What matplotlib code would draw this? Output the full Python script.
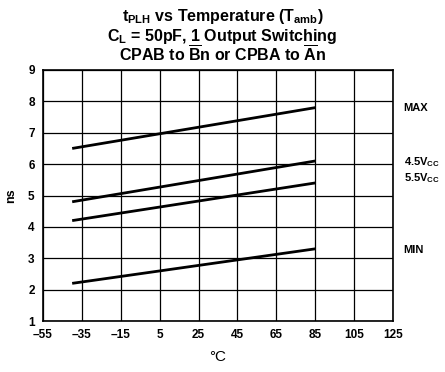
import matplotlib
matplotlib.use("Agg")
import matplotlib.pyplot as plt

# data
temps = [-40, 85]
max_ns = [6.5, 7.8]
v45_ns = [4.8, 6.1]
v55_ns = [4.2, 5.4]
min_ns = [2.2, 3.3]

x_ticks = [-55, -35, -15, 5, 25, 45, 65, 85, 105, 125]
y_ticks = [1, 2, 3, 4, 5, 6, 7, 8, 9]
series_labels = ["MAX", r"4.5V$_{CC}$", r"5.5V$_{CC}$", "MIN"]
label_y = [7.78, 6.08, 5.55, 3.26]

plt.rcParams['font.family'] = ['Liberation Sans', 'DejaVu Sans']
plt.rcParams['font.weight'] = 'bold'
plt.rcParams['mathtext.fontset'] = 'custom'
plt.rcParams['mathtext.rm'] = 'Liberation Sans:bold'
plt.rcParams['mathtext.it'] = 'Liberation Sans:bold'
plt.rcParams['mathtext.bf'] = 'Liberation Sans:bold'
plt.rcParams['mathtext.default'] = 'rm'

fig = plt.figure(figsize=(4.45, 3.72), dpi=100)
ax = fig.add_axes([43/445, 51/372, 350/445, 251/372])

for ys in (max_ns, v45_ns, v55_ns, min_ns):
    ax.plot(temps, ys, color='black', linewidth=2.0, solid_capstyle='butt')

ax.set_xlim(-55, 125)
ax.set_ylim(1, 9)
ax.set_xticks(x_ticks)
ax.set_xticklabels([str(t).replace('-', '\u2013') for t in x_ticks])
ax.set_yticks(y_ticks)
ax.grid(True, color='black', linewidth=0.9)
ax.tick_params(length=0, labelsize=8.5, pad=6)
for s in ax.spines.values():
    s.set_linewidth(1.2)

ax.set_xlabel('°C', fontsize=11, fontweight='normal', labelpad=6)
ax.set_ylabel('ns', fontsize=9, fontweight='bold', labelpad=8)

for lab, yv in zip(series_labels, label_y):
    ax.text(1.03, yv, lab, transform=ax.get_yaxis_transform(),
            fontsize=8, va='center', ha='left')

fig.text(0.5, (372 - 16)/372, r't$_{PLH}$ vs Temperature (T$_{amb}$)',
         ha='center', va='center', fontsize=11.5)
fig.text(0.5, (372 - 36)/372, r'C$_{L}$ = 50pF, 1 Output Switching',
         ha='center', va='center', fontsize=11.5)
fig.text(0.5, (372 - 55)/372, r'CPAB to $\overline{\mathrm{B}}$n or CPBA to $\overline{\mathrm{A}}$n',
         ha='center', va='center', fontsize=11.5)

fig.savefig('out.png', dpi=100)
